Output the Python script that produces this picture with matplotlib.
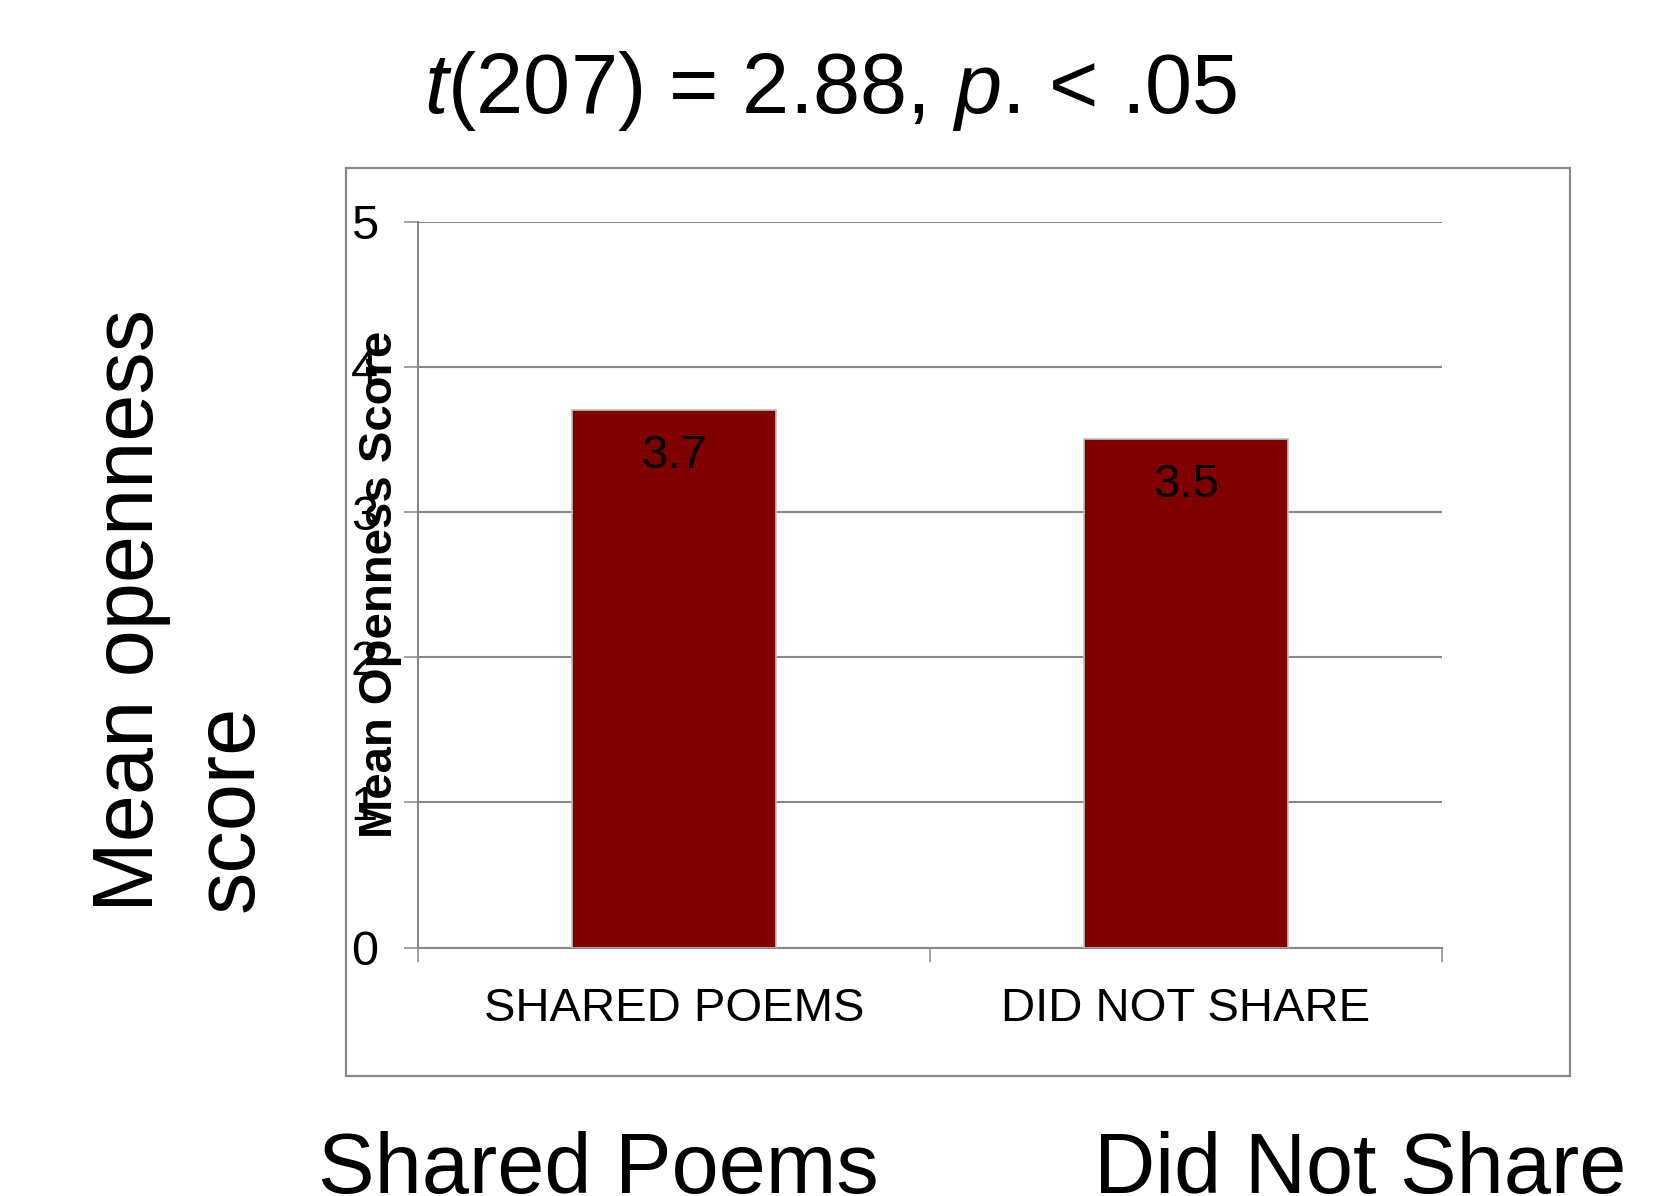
import matplotlib
matplotlib.use("Agg")
import matplotlib.pyplot as plt
from matplotlib.patches import Rectangle
import numpy as np

plt.rcParams['font.family'] = ['Liberation Sans', 'DejaVu Sans']
plt.rcParams['mathtext.fontset'] = 'custom'
plt.rcParams['mathtext.rm'] = 'Liberation Sans'
plt.rcParams['mathtext.it'] = 'Liberation Sans:italic'

# ---- data ----
categories = ["SHARED POEMS", "DID NOT SHARE"]
means = [3.7, 3.5]
value_labels = ["3.7", "3.5"]
yticks = [0, 1, 2, 3, 4, 5]
group_labels = ["Shared Poems", "Did Not Share"]
title = r"$\it{t}$(207) = 2.88, $\it{p}$. < .05"
inner_ylabel = "Mean Openness Score"
outer_ylabel = "Mean openness\nscore"

W, H = 1679, 1196
fig = plt.figure(figsize=(W / 100, H / 100), dpi=100)
fig.patch.set_facecolor("white")

grey = "#888888"

# outer chart box
fig.add_artist(Rectangle((346 / W, 1 - 1076 / H), (1570 - 346) / W, (1076 - 168) / H,
                         transform=fig.transFigure, fill=False, ec=grey, lw=1.6))

left, right = 418 / W, 1442 / W
bottom, top = 1 - 947.7 / H, 1 - 221.6 / H
ax = fig.add_axes([left, bottom, right - left, top - bottom])

x = np.arange(len(categories))
bars = ax.bar(x, means, width=0.4, color="#800000", edgecolor="#c0c0c0", linewidth=1.2, zorder=3)

ax.set_xlim(-0.5, len(categories) - 0.5)
ax.set_ylim(0, 5)
ax.set_yticks(yticks)
ax.set_yticklabels([str(v) for v in yticks])
ax.yaxis.grid(True, color=grey, lw=1.5, zorder=0)
ax.set_axisbelow(True)

# category boundaries as major ticks, labels at centres as minor ticks
ax.set_xticks(np.arange(len(categories) + 1) - 0.5)
ax.set_xticklabels([])
ax.set_xticks(x, minor=True)
ax.set_xticklabels(categories, minor=True, fontsize=34)
ax.tick_params(axis="x", which="major", direction="out", length=10, width=1.1, color=grey)
ax.tick_params(axis="x", which="minor", length=0, pad=28)
ax.tick_params(axis="y", direction="out", length=10, width=1.1, color=grey, labelsize=35, pad=19)

for s in ["top", "right"]:
    ax.spines[s].set_visible(False)
for s in ["left", "bottom"]:
    ax.spines[s].set_color(grey)
    ax.spines[s].set_linewidth(1.5)

for xi, m, lab in zip(x, means, value_labels):
    ax.annotate(lab, (xi, m), xytext=(0, -32.5), textcoords="offset points",
                ha="center", va="center", fontsize=34, zorder=4)

ax.set_ylabel(inner_ylabel, fontsize=34, fontweight="bold", va="center")
ax.yaxis.set_label_coords((380 - 418) / (1442 - 418), 0.5)

# title
fig.text(831 / W, 1 - 113 / H, title, ha="center", va="baseline", fontsize=61)

# big outer y label
fig.text(181 / W, 1 - 912 / H, outer_ylabel, rotation=90, ha="center", va="bottom",
         multialignment="left", fontsize=61, linespacing=1.32)

# bottom group labels
fig.text(598.5 / W, 1 - 1193 / H, group_labels[0], ha="center", va="baseline", fontsize=61)
fig.text(1360.5 / W, 1 - 1193 / H, group_labels[1], ha="center", va="baseline", fontsize=61)

fig.savefig("out.png", dpi=100, facecolor="white")
